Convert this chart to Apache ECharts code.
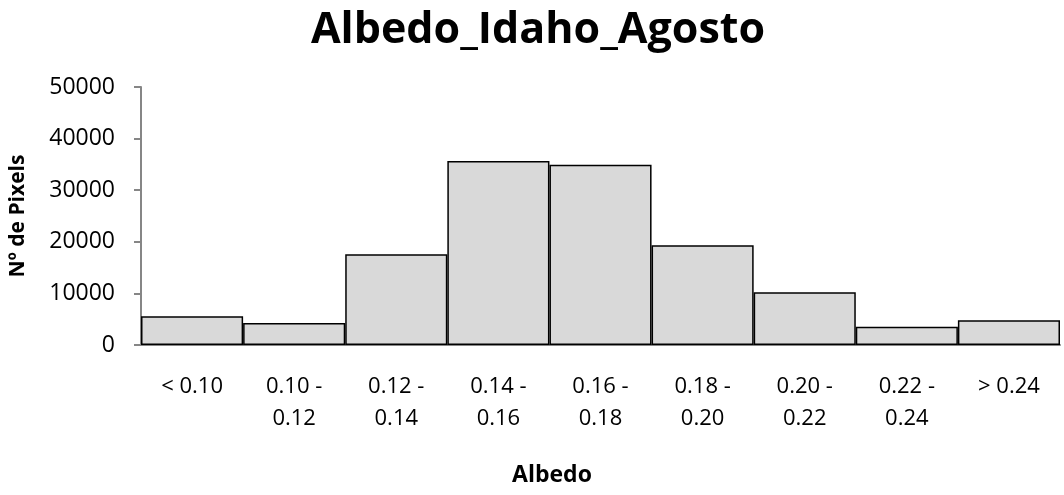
<!DOCTYPE html>
<html><head><meta charset="utf-8">
<script src="https://cdn.jsdelivr.net/npm/echarts@6/dist/echarts.min.js"></script>
<style>html,body{margin:0;padding:0;background:#fff}#c{width:1064px;height:495px}</style>
</head><body><div id="c"></div>
<script>
const categories = ['< 0.10','0.10 -\n0.12','0.12 -\n0.14','0.14 -\n0.16','0.16 -\n0.18','0.18 -\n0.20','0.20 -\n0.22','0.22 -\n0.24','> 0.24'];
const pixelCounts = [5550, 4270, 17600, 35650, 34950, 19350, 10200, 3550, 4780];
const yTicks = [0, 10000, 20000, 30000, 40000, 50000];
const FONT = '"Open Sans", sans-serif';
const chart = echarts.init(document.getElementById('c'));
chart.setOption({
  animation: false,
  title: {text: 'Albedo_Idaho_Agosto', top: 4, left: 533, textAlign: 'center',
    textStyle: {fontFamily: FONT, fontWeight: 'bold', fontSize: 43, color: '#000'}},
  grid: {left: 141, right: 4, top: 87, bottom: 150, containLabel: false, outerBoundsMode: 'none'},
  xAxis: {type: 'category', data: categories,
    axisLine: {lineStyle: {color: '#868686', width: 2}},
    axisTick: {show: false},
    axisLabel: {fontFamily: FONT, fontSize: 22, color: '#000', margin: 26, lineHeight: 32, interval: 0}},
  yAxis: {type: 'value', min: yTicks[0], max: yTicks[yTicks.length-1], interval: 10000,
    name: 'Nº de Pixels', nameLocation: 'middle', nameGap: 112, nameRotate: 90,
    nameTextStyle: {fontFamily: FONT, fontWeight: 'bold', fontSize: 21, color: '#000'},
    axisLine: {show: true, lineStyle: {color: '#868686', width: 2}},
    axisTick: {show: true, length: 7, lineStyle: {color: '#868686', width: 2}},
    splitLine: {show: false},
    axisLabel: {fontFamily: FONT, fontSize: 23, color: '#000', margin: 26,
      formatter: v => String(v)}},
  graphic: [{type: 'text', x: 552, y: 475,
    style: {text: 'Albedo', fontFamily: FONT, fontWeight: 'bold', fontSize: 23, fill: '#000',
      textAlign: 'center', textVerticalAlign: 'middle'}}],
  series: [{type: 'bar', data: pixelCounts, barCategoryGap: '0%',
    itemStyle: {color: '#d9d9d9', borderColor: '#000', borderWidth: 1.5}}]
});
</script></body></html>
